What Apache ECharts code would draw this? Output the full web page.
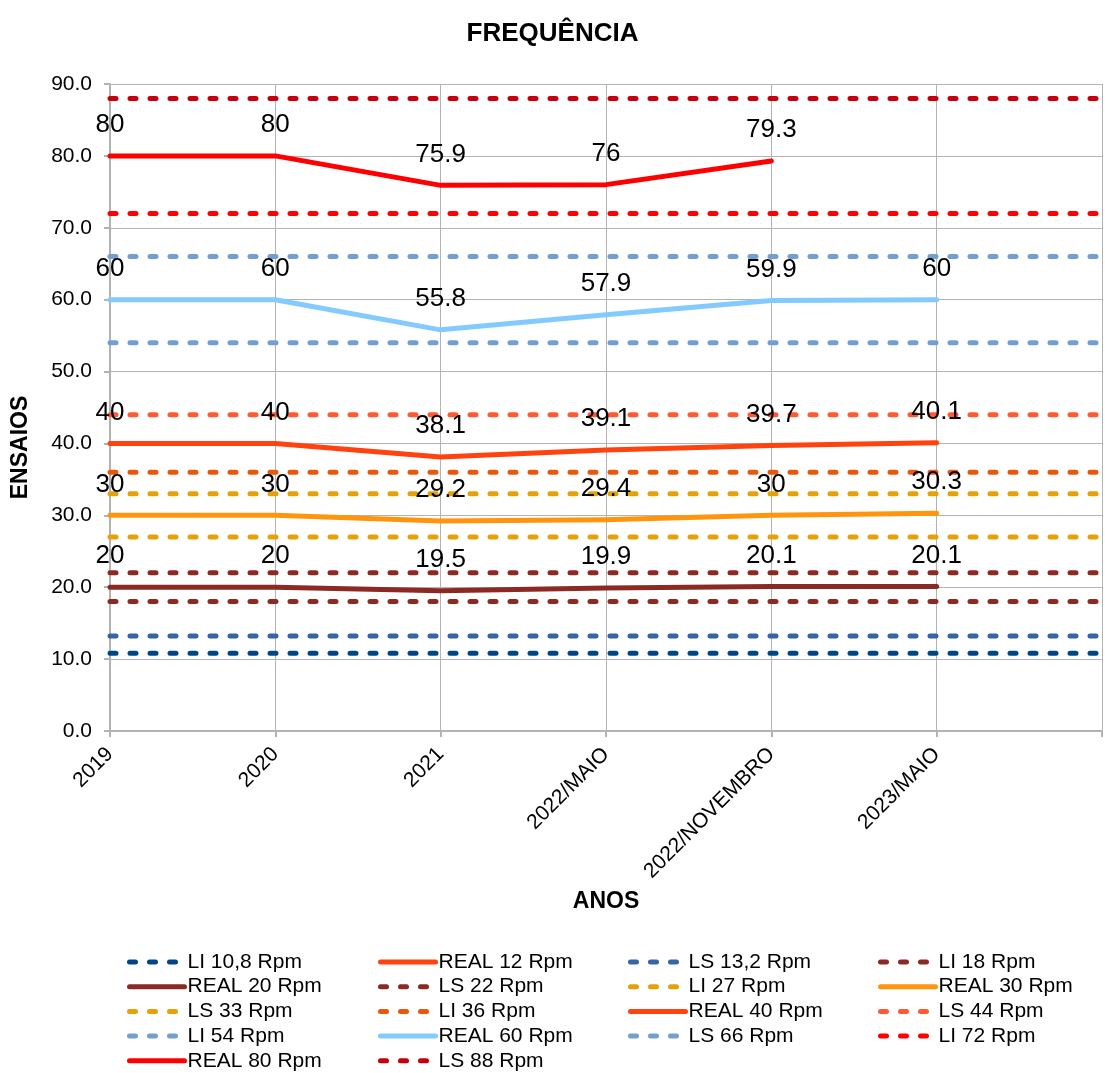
<!DOCTYPE html>
<html>
<head>
<meta charset="utf-8">
<script src="https://cdn.jsdelivr.net/npm/echarts@6/dist/echarts.min.js"></script>
<style>
	html, body { margin: 0; padding: 0; background: #fff; }
	#chartBox { width: 1105px; height: 1073px; }
</style>
</head>
<body>
<div id="chartBox"></div>
<script>
// categorias do eixo X (a última fica vazia, como no original)
const categories = ['2019', '2020', '2021', '2022/MAIO', '2022/NOVEMBRO', '2023/MAIO', ''];

// valores medidos
const real12 = [];
const real20 = [20, 20, 19.5, 19.9, 20.1, 20.1];
const real30 = [30, 30, 29.2, 29.4, 30, 30.3];
const real40 = [40, 40, 38.1, 39.1, 39.7, 40.1];
const real60 = [60, 60, 55.8, 57.9, 59.9, 60];
const real80 = [80, 80, 75.9, 76, 79.3];

// limites (linhas pontilhadas)
const limitNames = ['LI 10,8 Rpm', 'LS 13,2 Rpm', 'LI 18 Rpm', 'LS 22 Rpm', 'LI 27 Rpm', 'LS 33 Rpm',
	'LI 36 Rpm', 'LS 44 Rpm', 'LI 54 Rpm', 'LS 66 Rpm', 'LI 72 Rpm', 'LS 88 Rpm'];
const limitValues = [10.8, 13.2, 18, 22, 27, 33, 36, 44, 54, 66, 72, 88];

const yTicks = { min: 0, max: 90, interval: 10 };

// ordem da legenda (4 colunas)
const legendCols = [
	['LI 10,8 Rpm', 'REAL 20 Rpm', 'LS 33 Rpm', 'LI 54 Rpm', 'REAL 80 Rpm'],
	['REAL 12 Rpm', 'LS 22 Rpm', 'LI 36 Rpm', 'REAL 60 Rpm', 'LS 88 Rpm'],
	['LS 13,2 Rpm', 'LI 27 Rpm', 'REAL 40 Rpm', 'LS 66 Rpm'],
	['LI 18 Rpm', 'REAL 30 Rpm', 'LS 44 Rpm', 'LI 72 Rpm']
];

const colors = {
	'LI 10,8 Rpm': '#004586',
	'REAL 12 Rpm': '#ff420e',
	'LS 13,2 Rpm': '#3465a4',
	'LI 18 Rpm': '#8b2a22',
	'REAL 20 Rpm': '#8b2a22',
	'LS 22 Rpm': '#8b2a22',
	'LI 27 Rpm': '#e6a106',
	'REAL 30 Rpm': '#ff950e',
	'LS 33 Rpm': '#e6a106',
	'LI 36 Rpm': '#e8580c',
	'REAL 40 Rpm': '#ff420e',
	'LS 44 Rpm': '#ff5a33',
	'LI 54 Rpm': '#729fcf',
	'REAL 60 Rpm': '#83caff',
	'LS 66 Rpm': '#729fcf',
	'LI 72 Rpm': '#ff0000',
	'REAL 80 Rpm': '#ff0000',
	'LS 88 Rpm': '#c5000b'
};

const font = 'Liberation Sans, Arial, sans-serif';

function realSeries(name, data) {
	return {
		name: name,
		type: 'line',
		data: data,
		symbol: 'circle',
		symbolSize: 2,
		showSymbol: true,
		lineStyle: { color: colors[name], width: 5, cap: 'round', join: 'round' },
		itemStyle: { color: colors[name] },
		label: {
			show: true,
			position: 'top',
			distance: 17,
			color: '#000',
			fontSize: 26,
			fontFamily: font
		},
		z: 3
	};
}

function limitSeries(name, value) {
	return {
		name: name,
		type: 'line',
		data: categories.map(() => value),
		symbol: 'none',
		lineStyle: { color: colors[name], width: 5, type: [6, 14], cap: 'round' },
		itemStyle: { color: colors[name] },
		z: 2
	};
}

let series = [];
limitNames.forEach((n, i) => series.push(limitSeries(n, limitValues[i])));
series.push(realSeries('REAL 12 Rpm', real12));
series.push(realSeries('REAL 20 Rpm', real20));
series.push(realSeries('REAL 30 Rpm', real30));
series.push(realSeries('REAL 40 Rpm', real40));
series.push(realSeries('REAL 60 Rpm', real60));
series.push(realSeries('REAL 80 Rpm', real80));

const legendLeft = [127, 378, 628, 878];
const legends = legendCols.map((col, i) => ({
	orient: 'vertical',
	left: legendLeft[i],
	top: 950,
	height: 140,
	data: col,
	itemWidth: 55,
	itemHeight: 14,
	itemGap: 0.7,
	padding: 0,
	itemStyle: { opacity: 0 },
	lineStyle: { width: 5, cap: 'round' },
	textStyle: { color: '#000', fontSize: 21, fontFamily: font, lineHeight: 24, padding: [0, 0, 0, -2] }
}));

let myChart = echarts.init(document.getElementById('chartBox'));
let option = {
	backgroundColor: '#fff',
	animation: false,
	title: {
		text: 'FREQUÊNCIA',
		left: 'center',
		top: 16,
		textStyle: { color: '#000', fontSize: 26, fontWeight: 'bold', fontFamily: font }
	},
	legend: legends,
	grid: { left: 110, right: 3, top: 84, bottom: 342 },
	xAxis: {
		type: 'category',
		data: categories,
		boundaryGap: false,
		name: 'ANOS',
		nameLocation: 'middle',
		nameGap: 159,
		nameTextStyle: { color: '#000', fontSize: 23, fontWeight: 'bold', fontFamily: font },
		axisLine: { lineStyle: { color: '#b3b3b3', width: 2 } },
		axisTick: { show: true, length: 6, lineStyle: { color: '#b3b3b3', width: 2 } },
		splitLine: { show: true, lineStyle: { color: '#b3b3b3', width: 1 } },
		axisLabel: {
			interval: 0,
			rotate: 45,
			margin: 20,
			color: '#000',
			fontSize: 21,
			fontFamily: font
		}
	},
	yAxis: {
		type: 'value',
		min: yTicks.min,
		max: yTicks.max,
		interval: yTicks.interval,
		name: 'ENSAIOS',
		nameLocation: 'middle',
		nameGap: 78,
		nameTextStyle: { color: '#000', fontSize: 23, fontWeight: 'bold', fontFamily: font, padding: [0, 80, 0, 0] },
		axisLine: { show: true, lineStyle: { color: '#b3b3b3', width: 2 } },
		axisTick: { show: true, length: 6, lineStyle: { color: '#b3b3b3', width: 2 } },
		splitLine: { show: true, lineStyle: { color: '#b3b3b3', width: 1 } },
		axisLabel: {
			margin: 18,
			color: '#000',
			fontSize: 21,
			fontFamily: font,
			formatter: v => v.toFixed(1)
		}
	},
	series: series
};
myChart.setOption(option, true);
</script>
</body>
</html>
